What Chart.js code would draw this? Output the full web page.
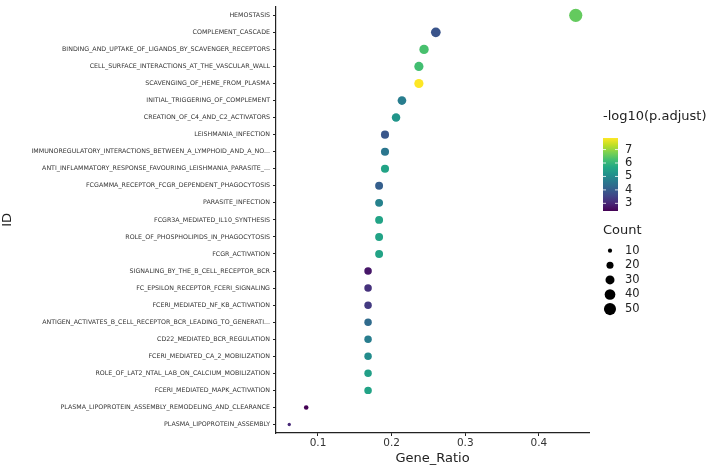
<!DOCTYPE html>
<html>
<head>
<meta charset="utf-8">
<script src="https://cdn.jsdelivr.net/npm/chart.js@4.4.1/dist/chart.umd.min.js"></script>
<style>
  html, body { margin: 0; padding: 0; background: #fff; }
  #wrap { width: 709px; height: 468px; }
</style>
</head>
<body>
<div id="wrap"><canvas id="dot-chart"></canvas></div>
<script>
'use strict';

// Data
let pathwayIds = [
  'HEMOSTASIS',
  'COMPLEMENT_CASCADE',
  'BINDING_AND_UPTAKE_OF_LIGANDS_BY_SCAVENGER_RECEPTORS',
  'CELL_SURFACE_INTERACTIONS_AT_THE_VASCULAR_WALL',
  'SCAVENGING_OF_HEME_FROM_PLASMA',
  'INITIAL_TRIGGERING_OF_COMPLEMENT',
  'CREATION_OF_C4_AND_C2_ACTIVATORS',
  'LEISHMANIA_INFECTION',
  'IMMUNOREGULATORY_INTERACTIONS_BETWEEN_A_LYMPHOID_AND_A_NO...',
  'ANTI_INFLAMMATORY_RESPONSE_FAVOURING_LEISHMANIA_PARASITE_...',
  'FCGAMMA_RECEPTOR_FCGR_DEPENDENT_PHAGOCYTOSIS',
  'PARASITE_INFECTION',
  'FCGR3A_MEDIATED_IL10_SYNTHESIS',
  'ROLE_OF_PHOSPHOLIPIDS_IN_PHAGOCYTOSIS',
  'FCGR_ACTIVATION',
  'SIGNALING_BY_THE_B_CELL_RECEPTOR_BCR',
  'FC_EPSILON_RECEPTOR_FCERI_SIGNALING',
  'FCERI_MEDIATED_NF_KB_ACTIVATION',
  'ANTIGEN_ACTIVATES_B_CELL_RECEPTOR_BCR_LEADING_TO_GENERATI...',
  'CD22_MEDIATED_BCR_REGULATION',
  'FCERI_MEDIATED_CA_2_MOBILIZATION',
  'ROLE_OF_LAT2_NTAL_LAB_ON_CALCIUM_MOBILIZATION',
  'FCERI_MEDIATED_MAPK_ACTIVATION',
  'PLASMA_LIPOPROTEIN_ASSEMBLY_REMODELING_AND_CLEARANCE',
  'PLASMA_LIPOPROTEIN_ASSEMBLY'
];
let geneRatios = [0.450, 0.260, 0.244, 0.237, 0.237, 0.214, 0.206, 0.191, 0.191, 0.191,
  0.183, 0.183, 0.183, 0.183, 0.183, 0.168, 0.168, 0.168, 0.168, 0.168,
  0.168, 0.168, 0.168, 0.084, 0.061];
let geneCounts = [59, 34, 32, 31, 31, 28, 27, 25, 25, 25,
  24, 24, 24, 24, 24, 22, 22, 22, 22, 22,
  22, 22, 22, 11, 8];
let negLogPadj = [6.56, 3.84, 6.29, 6.23, 7.86, 4.71, 5.25, 3.90, 4.55, 5.58,
  4.06, 4.82, 5.58, 5.58, 5.58, 2.76, 3.19, 3.35, 4.33, 4.71,
  5.04, 5.47, 5.58, 2.43, 3.05];
let ratioTicks = [0.1, 0.2, 0.3, 0.4];
let colorTicks = [3, 4, 5, 6, 7];
let countTicks = [10, 20, 30, 40, 50];

// Styles
const FONT = "'DejaVu Sans', sans-serif";
const AXIS_COLOR = '#222';
const viridisStops = ['#440154', '#482475', '#414487', '#355f8d', '#2a788e',
  '#21918c', '#22a884', '#42be71', '#7ad151', '#bddf26', '#fde725'];

let colorMin = Math.min(...negLogPadj);
let colorMax = Math.max(...negLogPadj);

function hexToRgb(hex) {
  return [1, 3, 5].map(i => parseInt(hex.slice(i, i + 2), 16));
}

function viridis(t) {
  t = Math.max(0, Math.min(1, t));
  let pos = t * (viridisStops.length - 1);
  let i = Math.min(Math.floor(pos), viridisStops.length - 2);
  let f = pos - i;
  let a = hexToRgb(viridisStops[i]);
  let b = hexToRgb(viridisStops[i + 1]);
  let c = a.map((v, k) => Math.round(v + (b[k] - v) * f));
  return `rgb(${c[0]},${c[1]},${c[2]})`;
}

function colorFor(value) {
  return viridis((value - colorMin) / (colorMax - colorMin));
}

function radiusFor(count) {
  return Math.sqrt(Math.max(0.5, 0.8 * count - 3.6));
}

// Legend drawn to the right of the plot
const sideLegend = {
  id: 'sideLegend',
  afterDraw(chart) {
    let c = chart.ctx;
    c.save();
    c.textBaseline = 'middle';
    c.textAlign = 'left';
    c.fillStyle = '#222';
    c.font = `13px ${FONT}`;
    c.fillText('-log10(p.adjust)', 603, 117);

    // colour bar
    let barX = 603, barW = 15, barTop = 138, barBottom = 211;
    let grad = c.createLinearGradient(0, barBottom, 0, barTop);
    for (let k = 0; k <= 20; k++) {
      grad.addColorStop(k / 20, viridis(k / 20));
    }
    c.fillStyle = grad;
    c.fillRect(barX, barTop, barW, barBottom - barTop);
    c.font = `11.5px ${FONT}`;
    c.strokeStyle = 'rgba(255,255,255,0.8)';
    c.lineWidth = 1;
    colorTicks.forEach(v => {
      let y = barBottom - (v - colorMin) / (colorMax - colorMin) * (barBottom - barTop);
      c.beginPath();
      c.moveTo(barX, y); c.lineTo(barX + 3, y);
      c.moveTo(barX + barW - 3, y); c.lineTo(barX + barW, y);
      c.stroke();
      c.fillStyle = '#222';
      c.fillText(String(v), 625, y);
    });

    // size key
    c.font = `13px ${FONT}`;
    c.fillText('Count', 603, 231);
    c.font = `11.5px ${FONT}`;
    countTicks.forEach((n, k) => {
      let y = 250.7 + k * 14.6;
      c.fillStyle = '#000';
      c.beginPath();
      c.arc(610, y, radiusFor(n), 0, Math.PI * 2);
      c.fill();
      c.fillStyle = '#222';
      c.fillText(String(n), 625, y);
    });
    c.restore();
  }
};

let points = pathwayIds.map((id, i) => ({ x: geneRatios[i], y: id }));

const ctx = document.getElementById('dot-chart').getContext('2d');

// eslint-disable-next-line
const dotChart = new Chart(ctx, {
  type: 'scatter',
  data: {
    datasets: [{
      data: points,
      pointRadius: (p) => radiusFor(geneCounts[p.dataIndex]),
      pointHoverRadius: (p) => radiusFor(geneCounts[p.dataIndex]),
      backgroundColor: (p) => colorFor(negLogPadj[p.dataIndex]),
      borderWidth: 0
    }]
  },
  options: {
    responsive: true,
    maintainAspectRatio: false,
    animation: false,
    layout: { padding: { left: 0, right: 120, top: 3, bottom: 0 } },
    plugins: {
      legend: { display: false },
      tooltip: { enabled: false }
    },
    scales: {
      x: {
        type: 'linear',
        min: 0.043,
        max: 0.468,
        afterFit(scale) { scale.height = 35; },
        afterBuildTicks(scale) {
          scale.ticks = ratioTicks.map(v => ({ value: v }));
        },
        ticks: {
          includeBounds: false,
          padding: 1,
          color: '#333',
          font: { family: FONT, size: 10.5 },
          callback: (v) => Number(v).toFixed(1)
        },
        grid: {
          drawOnChartArea: false,
          drawTicks: true,
          tickLength: 3,
          tickColor: AXIS_COLOR,
          tickWidth: 1
        },
        border: { display: true, color: AXIS_COLOR, width: 1.2 },
        title: {
          display: true,
          text: 'Gene_Ratio',
          color: '#222',
          font: { family: FONT, size: 13 },
          padding: { top: 0, bottom: 2 }
        }
      },
      y: {
        type: 'category',
        labels: pathwayIds,
        offset: true,
        afterFit(scale) { scale.width = 276; },
        ticks: {
          autoSkip: false,
          padding: 3,
          color: '#333',
          font: { family: FONT, size: 6.3 }
        },
        grid: {
          drawOnChartArea: false,
          drawTicks: true,
          tickLength: 3,
          tickColor: AXIS_COLOR,
          tickWidth: 1
        },
        border: { display: true, color: AXIS_COLOR, width: 1.2 },
        title: {
          display: true,
          text: 'ID',
          color: '#222',
          font: { family: FONT, size: 13 },
          padding: { top: 0, bottom: 0 }
        }
      }
    }
  },
  plugins: [sideLegend]
});
</script>
</body>
</html>
